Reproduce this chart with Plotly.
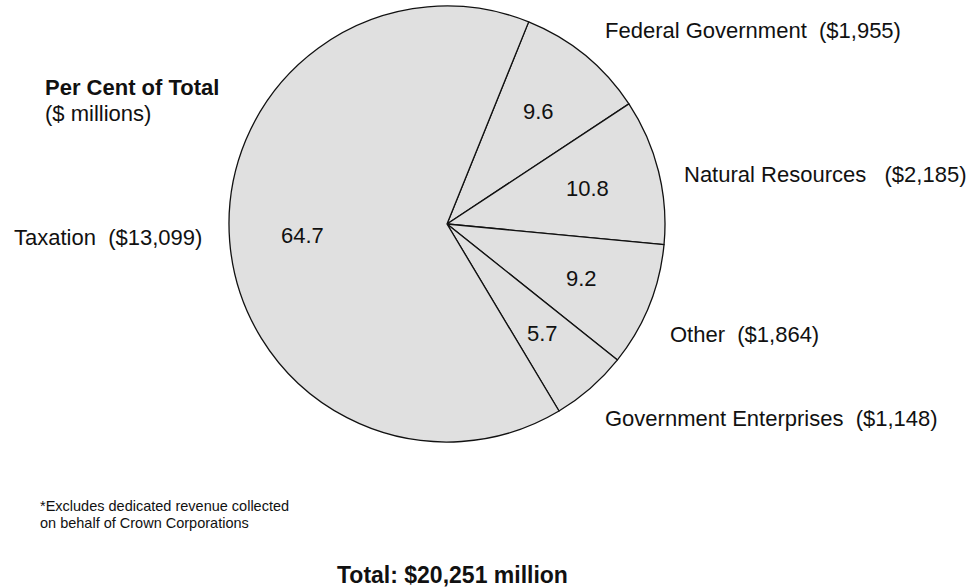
import math
import plotly.graph_objects as go

# Revenue sources, listed clockwise from the Federal Government slice
sources = ["Federal Government", "Natural Resources", "Other",
           "Government Enterprises", "Taxation"]
percent_of_total = [9.6, 10.8, 9.2, 5.7, 64.7]
millions = ["$1,955", "$2,185", "$1,864", "$1,148", "$13,099"]
total_millions = "$20,251"

FONT = "Liberation Sans, Arial, sans-serif"
INK = "#111111"
W, H = 975, 587
SIZE = 22

# Pie geometry in pixels
CX, CY, R = 447, 224, 218
START_ANGLE = 22          # degrees clockwise from 12 o'clock
LABEL_RADIUS = 0.665      # inside values sit at this fraction of the radius

fig = go.Figure(go.Pie(
    labels=sources,
    values=percent_of_total,
    textinfo="none",
    sort=False,
    direction="clockwise",
    rotation=START_ANGLE,
    marker=dict(colors=["#e0e0e0"] * len(sources),
                line=dict(color=INK, width=1.3)),
    hoverinfo="label+value",
    domain=dict(x=[(CX - R) / W, (CX + R) / W],
                y=[(H - CY - R) / H, (H - CY + R) / H]),
    showlegend=False,
))

annotations = []

# Per-cent values placed at each slice's mid angle
total = sum(percent_of_total)
cum = 0.0
for p in percent_of_total:
    mid = math.radians(START_ANGLE + 360 * (cum + p / 2) / total)
    cum += p
    px = CX + LABEL_RADIUS * R * math.sin(mid)
    py = CY - LABEL_RADIUS * R * math.cos(mid)
    annotations.append(dict(
        x=px / W, y=1 - py / H, text=f"{p:.1f}",
        xanchor="center", yanchor="middle",
        font=dict(family=FONT, size=SIZE, color=INK),
    ))

# Category captions beside the pie: (left x, y centre, spaces before amount)
caption_pos = {
    "Federal Government": (603, 30, 2),
    "Natural Resources": (682, 174, 3),
    "Other": (668, 334, 2),
    "Government Enterprises": (603, 418, 2),
    "Taxation": (12, 237, 2),
}
for name, amount in zip(sources, millions):
    x, y, gap = caption_pos[name]
    annotations.append(dict(
        x=x / W, y=1 - y / H, xanchor="left", yanchor="middle",
        text=f"{name}{chr(160) * gap}({amount})",
        font=dict(family=FONT, size=SIZE, color=INK),
    ))

annotations += [
    dict(x=43 / W, y=1 - 87 / H, xanchor="left", yanchor="middle",
         text="<b>Per Cent of Total</b>",
         font=dict(family=FONT, size=SIZE, color=INK)),
    dict(x=43 / W, y=1 - 113 / H, xanchor="left", yanchor="middle",
         text="($ millions)",
         font=dict(family=FONT, size=SIZE, color=INK)),
    dict(x=38 / W, y=1 - 506 / H, xanchor="left", yanchor="middle",
         text="*Excludes dedicated revenue collected",
         font=dict(family=FONT, size=14.5, color=INK)),
    dict(x=38 / W, y=1 - 523 / H, xanchor="left", yanchor="middle",
         text="on behalf of Crown Corporations",
         font=dict(family=FONT, size=14.5, color=INK)),
    dict(x=335 / W, y=1 - 575 / H, xanchor="left", yanchor="middle",
         text=f"<b>Total: {total_millions} million</b>",
         font=dict(family=FONT, size=23, color=INK)),
]
for a in annotations:
    a.update(xref="paper", yref="paper", showarrow=False)

fig.update_layout(
    width=W, height=H,
    margin=dict(l=0, r=0, t=0, b=0),
    paper_bgcolor="white",
    plot_bgcolor="white",
    annotations=annotations,
)

fig.write_html("out.html")
